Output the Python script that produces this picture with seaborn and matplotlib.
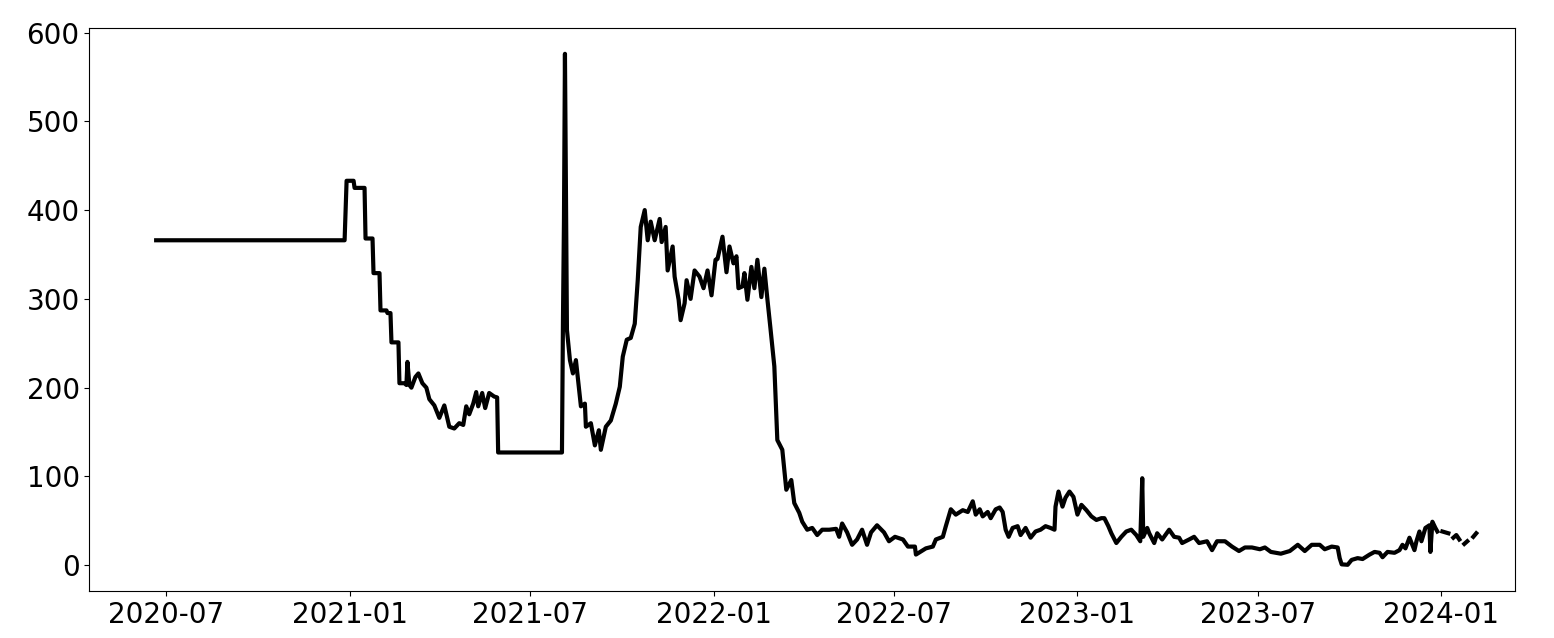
import numpy as np
import pandas as pd
import matplotlib
matplotlib.use('Agg')
import matplotlib.pyplot as plt
import matplotlib.dates as mdates
from matplotlib.ticker import MultipleLocator
import seaborn as sns

# 그림에서 읽은 값 (날짜, 값) / NaN 은 선이 끊긴 구간
dates_2020 = ['2020-06-21', '2020-12-27', '2020-12-29']
values_2020 = [366, 366, 433]

dates_2021 = ['2021-01-05', '2021-01-06', '2021-01-16', '2021-01-17', '2021-01-24', '2021-01-25',
              '2021-01-31', '2021-02-01', '2021-02-07', '2021-02-08', '2021-02-11', '2021-02-12',
              '2021-02-19', '2021-02-20', '2021-02-25', '2021-02-27', '2021-02-28', '2021-03-02',
              '2021-03-04', '2021-03-08', '2021-03-11', '2021-03-15', '2021-03-19', '2021-03-22',
              '2021-03-27', '2021-04-01', '2021-04-06', '2021-04-11', '2021-04-16', '2021-04-21',
              '2021-04-25', '2021-04-28', '2021-05-01', '2021-05-05', '2021-05-08', '2021-05-10',
              '2021-05-14', '2021-05-17', '2021-05-21', '2021-05-26', '2021-05-29', '2021-05-30',
              '2021-08-02', '2021-08-03', '2021-08-04', '2021-08-05', '2021-08-06', '2021-08-07',
              '2021-08-10', '2021-08-13', '2021-08-16', '2021-08-21', '2021-08-25', '2021-08-26',
              '2021-08-31', '2021-09-04', '2021-09-08', '2021-09-10', '2021-09-15', '2021-09-20',
              '2021-09-25', '2021-09-29', '2021-10-02', '2021-10-06', '2021-10-10', '2021-10-14',
              '2021-10-17', '2021-10-20', '2021-10-24', '2021-10-27', '2021-10-30', '2021-11-03',
              '2021-11-08', '2021-11-10', '2021-11-14', '2021-11-16', '2021-11-21', '2021-11-23',
              '2021-11-27', '2021-11-29', '2021-12-03', '2021-12-05', '2021-12-09', '2021-12-13',
              '2021-12-18', '2021-12-22', '2021-12-26', '2021-12-30']
values_2021 = [433, 425, 425, 368, 368, 329,
               329, 287, 287, 284, 284, 251,
               251, 205, 205, 203, 229, 203,
               200, 212, 216, 205, 200, 187,
               180, 166, 180, 156, 154, 160,
               158, 179, 170, 182, 195, 179,
               194, 177, 194, 190, 189, 127,
               127, 276, 387, 576, 420, 265,
               231, 216, 231, 179, 182, 156,
               160, 135, 152, 130, 156, 163,
               182, 201, 235, 254, 256, 272,
               321, 381, 400, 366, 387, 366,
               390, 364, 381, 332, 359, 325,
               299, 276, 295, 321, 300, 332,
               325, 312, 332, 304]

dates_2022 = ['2022-01-03', '2022-01-05', '2022-01-10', '2022-01-14', '2022-01-17', '2022-01-21',
              '2022-01-24', '2022-01-26', '2022-01-30', '2022-02-01', '2022-02-04', '2022-02-08',
              '2022-02-11', '2022-02-14', '2022-02-18', '2022-02-21', '2022-02-24', '2022-02-27',
              '2022-03-03', '2022-03-05', '2022-03-06', '2022-03-11', '2022-03-15', '2022-03-20',
              '2022-03-23', '2022-03-28', '2022-03-31', '2022-04-05', '2022-04-10', '2022-04-15',
              '2022-04-20', '2022-04-27', '2022-05-04', '2022-05-07', '2022-05-10', '2022-05-15',
              '2022-05-20', '2022-05-25', '2022-05-30', '2022-06-04', '2022-06-08', '2022-06-14',
              '2022-06-21', '2022-06-26', '2022-07-02', '2022-07-10', '2022-07-15', '2022-07-22',
              '2022-07-23', '2022-08-02', '2022-08-09', '2022-08-12', '2022-08-19', '2022-08-22',
              '2022-08-27', '2022-09-01', '2022-09-08', '2022-09-13', '2022-09-18', '2022-09-21',
              '2022-09-25', '2022-09-28', '2022-10-03', '2022-10-06', '2022-10-11', '2022-10-15',
              '2022-10-18', '2022-10-21', '2022-10-24', '2022-10-28', '2022-11-02', '2022-11-05',
              '2022-11-10', '2022-11-15', '2022-11-20', '2022-11-25', '2022-11-30', '2022-12-05',
              '2022-12-09', '2022-12-10', '2022-12-13', '2022-12-17', '2022-12-20', '2022-12-24',
              '2022-12-28']
values_2022 = [344, 345, 370, 330, 359, 340,
               348, 312, 314, 329, 299, 336,
               312, 344, 302, 334, 300, 268,
               224, 167, 141, 130, 85, 96,
               70, 59, 49, 40, 42, 34,
               40, 40, 41, 32, 47, 37,
               23, 29, 40, 23, 37, 45,
               37, 27, 32, 29, 21, 21,
               12, 19, 21, 29, 32, 44,
               63, 57, 62, 60, 72, 57,
               63, 55, 60, 53, 63, 65,
               60, 40, 32, 42, 44, 34,
               42, 31, 38, 40, 44, 42,
               40, 66, 83, 66, 76, 83,
               77]

dates_2023 = ['2023-01-01', '2023-01-05', '2023-01-10', '2023-01-15', '2023-01-20', '2023-01-25',
              '2023-01-28', '2023-02-01', '2023-02-04', '2023-02-09', '2023-02-14', '2023-02-19',
              '2023-02-24', '2023-03-01', '2023-03-05', '2023-03-07', '2023-03-08', '2023-03-12',
              '2023-03-14', '2023-03-19', '2023-03-22', '2023-03-27', '2023-04-03', '2023-04-08',
              '2023-04-13', '2023-04-16', '2023-04-23', '2023-04-28', '2023-05-03', '2023-05-11',
              '2023-05-16', '2023-05-21', '2023-05-29', '2023-06-05', '2023-06-12', '2023-06-18',
              '2023-06-25', '2023-07-03', '2023-07-08', '2023-07-14', '2023-07-24', '2023-08-02',
              '2023-08-10', '2023-08-17', '2023-08-24', '2023-09-01', '2023-09-06', '2023-09-13',
              '2023-09-19', '2023-09-21', '2023-09-23', '2023-09-29', '2023-10-03', '2023-10-09',
              '2023-10-14', '2023-10-21', '2023-10-26', '2023-10-31', '2023-11-03', '2023-11-08',
              '2023-11-15', '2023-11-20', '2023-11-23', '2023-11-26', '2023-11-30', '2023-12-05',
              '2023-12-07', '2023-12-10', '2023-12-12', '2023-12-16', '2023-12-20', '2023-12-21',
              '2023-12-23', '2023-12-26', '2023-12-28', '2023-12-30']
values_2023 = [57, 68, 62, 55, 51, 53,
               53, 44, 36, 25, 32, 38,
               40, 34, 27, 98, 32, 42,
               36, 25, 36, 29, 40, 32,
               31, 25, 29, 32, 25, 27,
               17, 27, 27, 21, 16, 20,
               20, 18, 20, 15, 13, 16,
               23, 16, 23, 23, 18, 21,
               20, 8, 1, 0.5, 6, 8,
               7, 12, 15, 14, 9, 15,
               14, 17, 23, 19, 31, 17,
               27, 38, 27, 42, 45, 15,
               49, 42, 38, np.nan]

dates_2024 = ['2024-01-02', '2024-01-08', '2024-01-10', '2024-01-13', '2024-01-16', '2024-01-19',
              '2024-01-21', '2024-01-24', '2024-01-27', '2024-01-29', '2024-02-02', '2024-02-05']
values_2024 = [38, 36, np.nan, 31, 34, 29,
               np.nan, 24, 27, np.nan, 32, 36]

dates = dates_2020 + dates_2021 + dates_2022 + dates_2023 + dates_2024
values = values_2020 + values_2021 + values_2022 + values_2023 + values_2024

df = pd.DataFrame({'date': pd.to_datetime(dates), 'value': values})
# NaN 위치마다 구간을 나눠서 선이 끊기게
df['seg'] = df['value'].isna().cumsum()
df = df.dropna()

fig, ax = plt.subplots(figsize=(15.54, 6.38), dpi=100)
sns.lineplot(data=df, x='date', y='value', units='seg', estimator=None,
             color='black', lw=3, ax=ax)

ax.set_xlim(pd.Timestamp('2020-04-15'), pd.Timestamp('2024-03-15'))
ax.set_ylim(-29, 605)
ax.xaxis.set_major_locator(mdates.MonthLocator(bymonth=[1, 7]))
ax.xaxis.set_major_formatter(mdates.DateFormatter('%Y-%m'))
ax.yaxis.set_major_locator(MultipleLocator(100))
ax.tick_params(labelsize=20)
ax.set_xlabel('')
ax.set_ylabel('')

fig.subplots_adjust(left=0.0575, right=0.975, top=0.956, bottom=0.0737)
fig.savefig('out.png', dpi=100)
